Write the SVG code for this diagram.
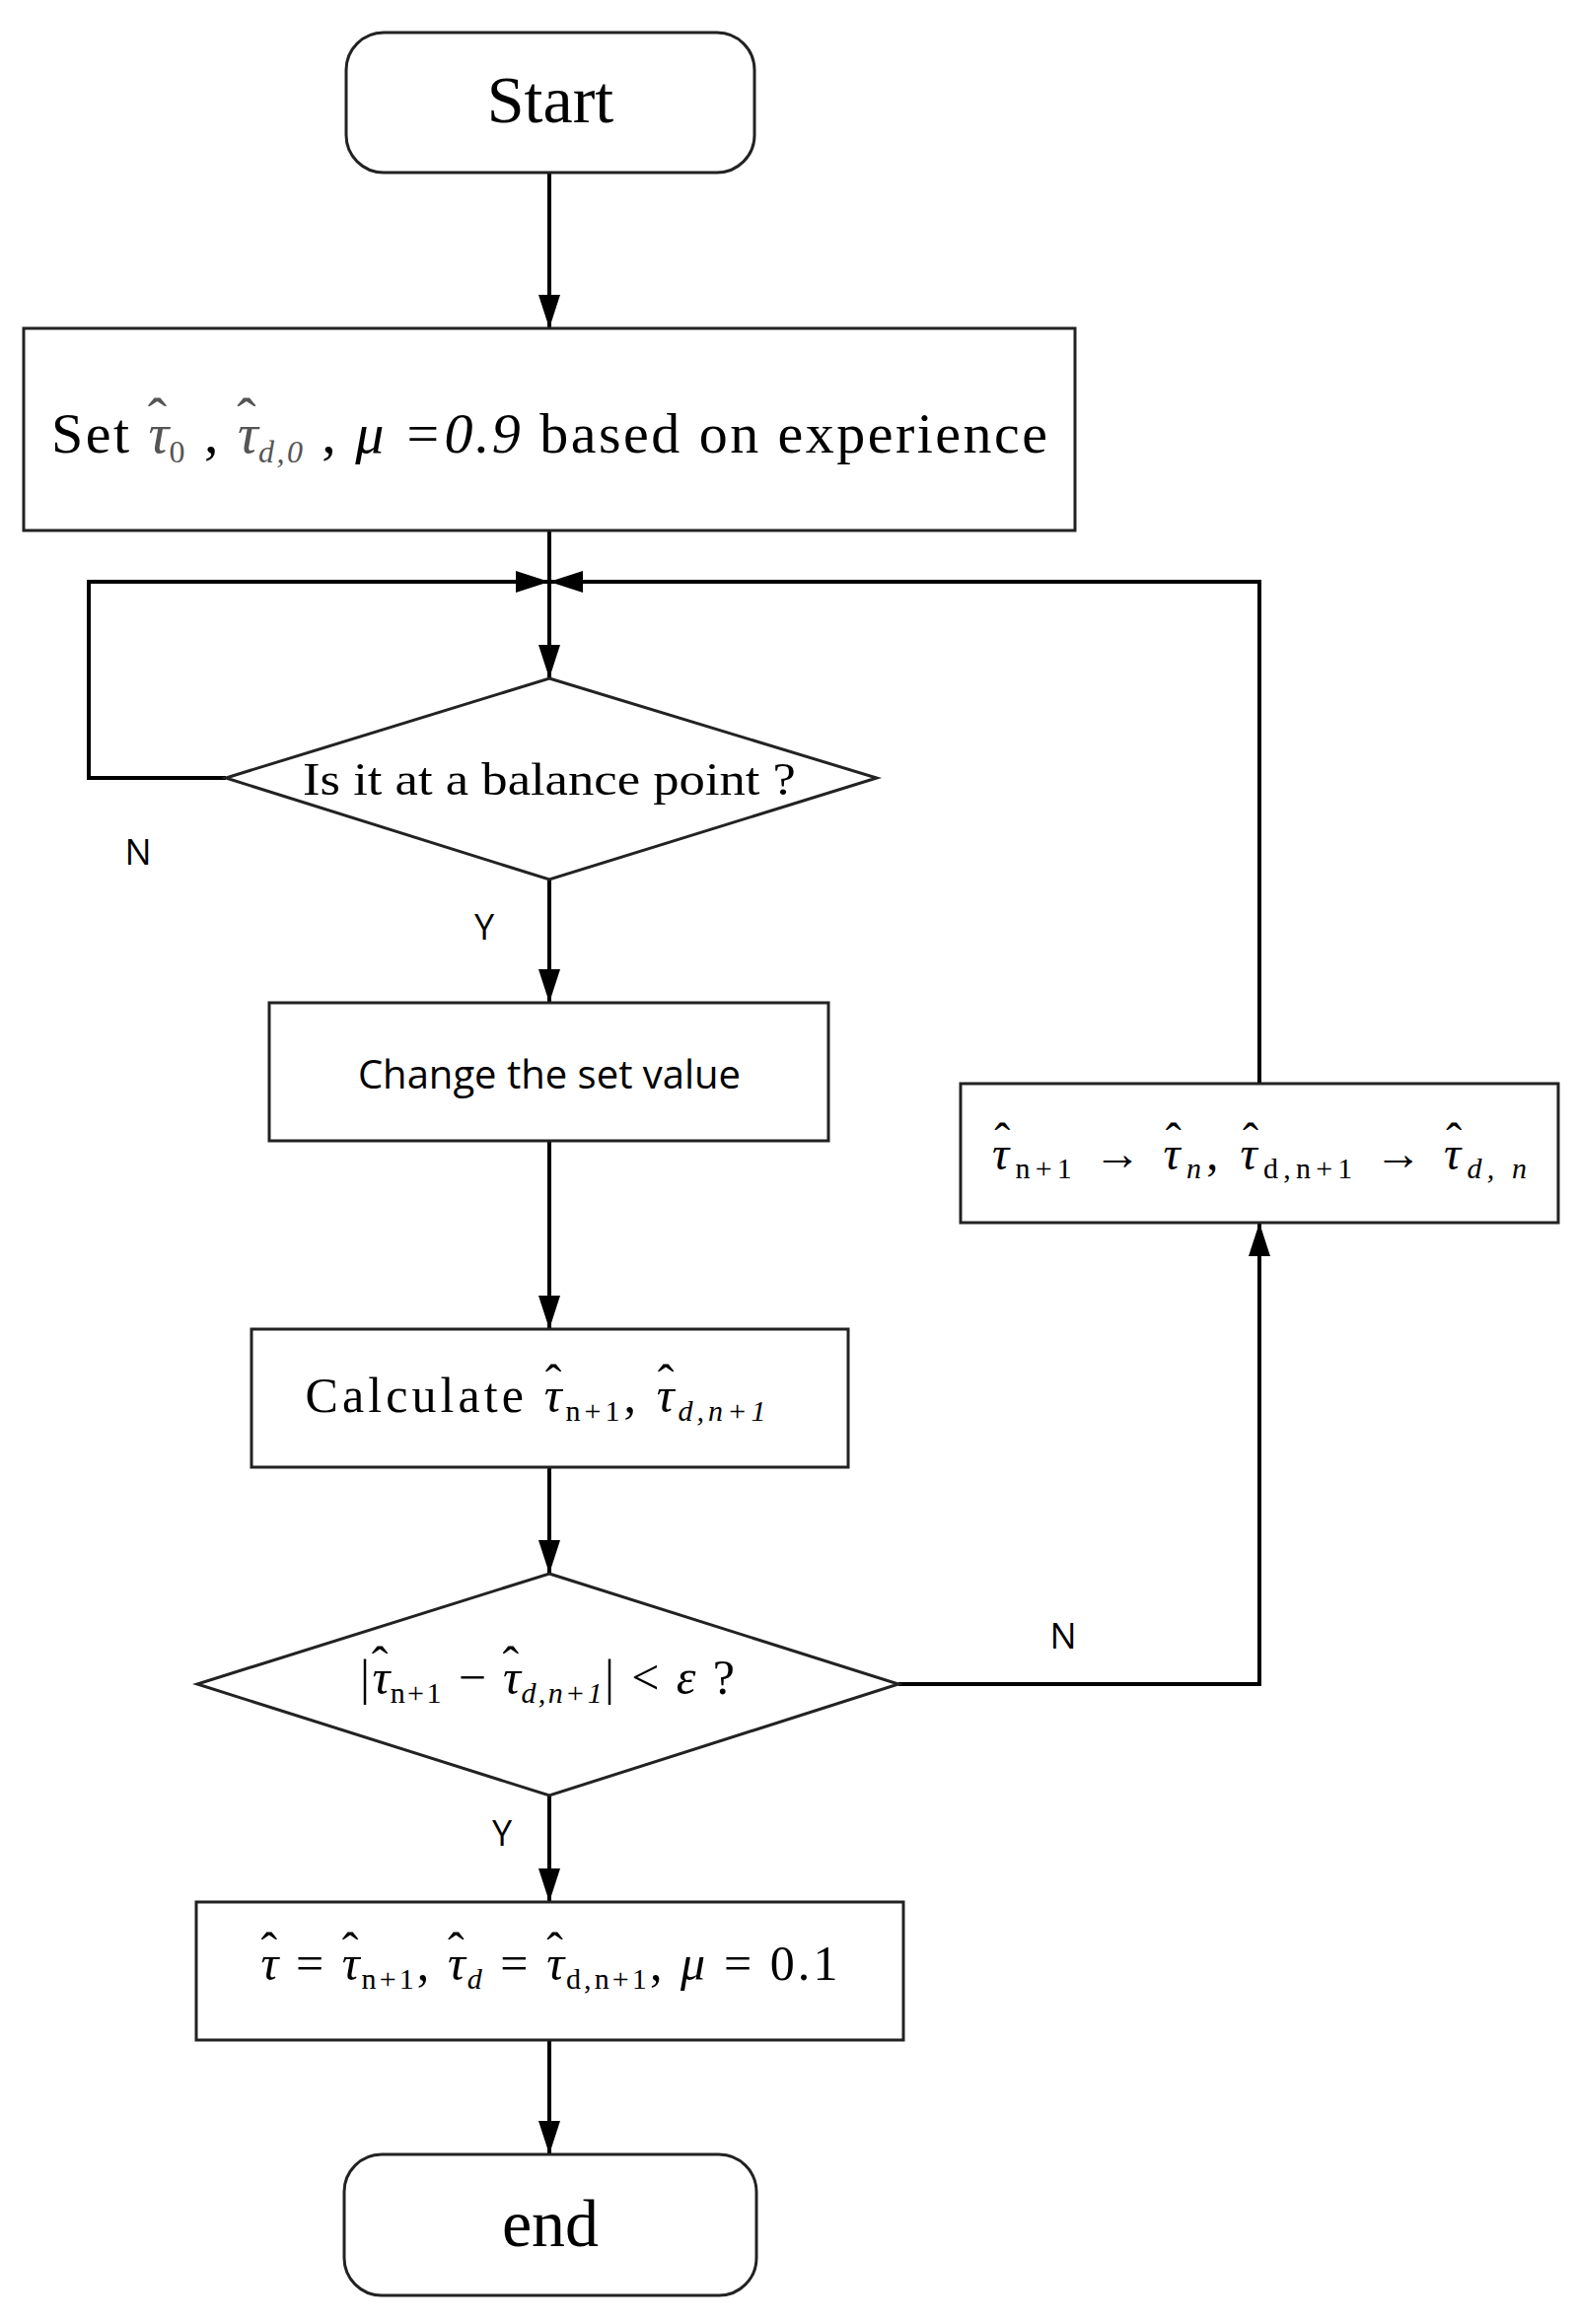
<svg xmlns="http://www.w3.org/2000/svg" width="1598" height="2357" viewBox="0 0 1598 2357">
<style>
.b{fill:#fff;stroke:#222;stroke-width:3}
.c{fill:none;stroke:#000;stroke-width:4}
.t{font-family:"Liberation Serif",serif;fill:#000;text-anchor:middle}
.s{font-family:"Open Sans","Liberation Sans",sans-serif;fill:#000;text-anchor:middle}
.i{font-style:italic}
.sb{font-size:30px}
</style>
<defs>
<marker id="a" markerWidth="34" markerHeight="22" refX="34" refY="11" viewBox="0 0 34 22" orient="auto" markerUnits="userSpaceOnUse"><path d="M0,0 L34,11 L0,22 Z" fill="#000"/></marker>
</defs>
<rect width="1598" height="2357" fill="#fff"/>
<g id="connectors">
<path class="c" d="M557,175 V333" marker-end="url(#a)"/>
<path class="c" d="M557,538 V688" marker-end="url(#a)"/>
<path class="c" d="M229,789 H90 V590 H557" marker-end="url(#a)"/>
<path class="c" d="M1277,1099 V590 H557" marker-end="url(#a)"/>
<path class="c" d="M557,892 V1017" marker-end="url(#a)"/>
<path class="c" d="M557,1157 V1348" marker-end="url(#a)"/>
<path class="c" d="M557,1488 V1596" marker-end="url(#a)"/>
<path class="c" d="M911,1708 H1277 V1240" marker-end="url(#a)"/>
<path class="c" d="M557,1821 V1929" marker-end="url(#a)"/>
<path class="c" d="M557,2069 V2185" marker-end="url(#a)"/>
<text class="s" x="140" y="877" font-size="36">N</text>
<text class="s" x="491" y="953" font-size="36">Y</text>
<text class="s" x="1078" y="1672" font-size="36">N</text>
<text class="s" x="509" y="1872" font-size="36">Y</text>
</g>
<g id="start"><rect class="b" x="351" y="33" width="414" height="142" rx="38"/><text class="t" x="558" y="124" font-size="68">Start</text></g>
<g id="set"><rect class="b" x="24" y="333" width="1066" height="205"/><text class="t" x="557" y="459" font-size="58" textLength="1010" lengthAdjust="spacing">Set <tspan class="i" fill="#555">τ</tspan><tspan dx="-24" dy="-16" fill="#555">ˆ</tspan><tspan dx="0" dy="26" font-size="32" fill="#555">0</tspan><tspan dy="-10"> , </tspan><tspan class="i" fill="#555">τ</tspan><tspan dx="-24" dy="-16" fill="#555">ˆ</tspan><tspan class="i" dy="26" font-size="32" fill="#555">d,0</tspan><tspan dy="-10"> , </tspan><tspan class="i">μ =0.9</tspan> based on experience</text></g>
<g id="balance"><path class="b" d="M557,688 L889,789 L557,892 L229,789 Z"/><text class="t" x="557" y="806" font-size="46" textLength="500" lengthAdjust="spacingAndGlyphs">Is it at a balance point ?</text></g>
<g id="change"><rect class="b" x="273" y="1017" width="567" height="140"/><text class="s" x="557" y="1104" font-size="40">Change the set value</text></g>
<g id="update"><rect class="b" x="974" y="1099" width="606" height="141"/><text class="t" x="1277" y="1186" font-size="48" textLength="545" lengthAdjust="spacing"><tspan class="i">τ</tspan><tspan dx="-20" dy="-13">ˆ</tspan><tspan class="sb" dy="22">n+1</tspan><tspan dy="-9"> → </tspan><tspan class="i">τ</tspan><tspan dx="-20" dy="-13">ˆ</tspan><tspan class="sb i" dy="22">n</tspan><tspan dy="-9">,   </tspan><tspan class="i">τ</tspan><tspan dx="-20" dy="-13">ˆ</tspan><tspan class="sb" dy="22">d,n+1</tspan><tspan dy="-9"> → </tspan><tspan class="i">τ</tspan><tspan dx="-20" dy="-13">ˆ</tspan><tspan class="sb i" dy="22">d, n</tspan></text></g>
<g id="calculate"><rect class="b" x="255" y="1348" width="605" height="140"/><text class="t" x="543" y="1432" font-size="50" textLength="467" lengthAdjust="spacing">Calculate <tspan class="i">τ</tspan><tspan dx="-21" dy="-13">ˆ</tspan><tspan class="sb" dy="22">n+1</tspan><tspan dy="-9">,   </tspan><tspan class="i">τ</tspan><tspan dx="-21" dy="-13">ˆ</tspan><tspan class="sb i" dy="22">d,n+1</tspan></text></g>
<g id="converge"><path class="b" d="M557,1596 L911,1708 L557,1821 L200,1708 Z"/><text class="t" x="555" y="1718" font-size="50" textLength="380" lengthAdjust="spacing">|<tspan class="i">τ</tspan><tspan dx="-21" dy="-13">ˆ</tspan><tspan class="sb" dy="22">n+1</tspan><tspan dy="-9"> − </tspan><tspan class="i">τ</tspan><tspan dx="-21" dy="-13">ˆ</tspan><tspan class="sb i" dy="22">d,n+1</tspan><tspan dy="-9">| &lt; </tspan><tspan class="i">ε</tspan> ?</text></g>
<g id="result"><rect class="b" x="199" y="1929" width="717" height="140"/><text class="t" x="557" y="2008" font-size="50" textLength="588" lengthAdjust="spacing"><tspan class="i">τ</tspan><tspan dx="-21" dy="-13">ˆ</tspan><tspan dy="13"> = </tspan><tspan class="i">τ</tspan><tspan dx="-21" dy="-13">ˆ</tspan><tspan class="sb" dy="22">n+1</tspan><tspan dy="-9">,   </tspan><tspan class="i">τ</tspan><tspan dx="-21" dy="-13">ˆ</tspan><tspan class="sb i" dy="22">d</tspan><tspan dy="-9"> = </tspan><tspan class="i">τ</tspan><tspan dx="-21" dy="-13">ˆ</tspan><tspan class="sb" dy="22">d,n+1</tspan><tspan dy="-9">,   </tspan><tspan class="i">μ</tspan> = 0.1</text></g>
<g id="end"><rect class="b" x="349" y="2185" width="418" height="143" rx="38"/><text class="t" x="558" y="2278" font-size="68">end</text></g>
</svg>
